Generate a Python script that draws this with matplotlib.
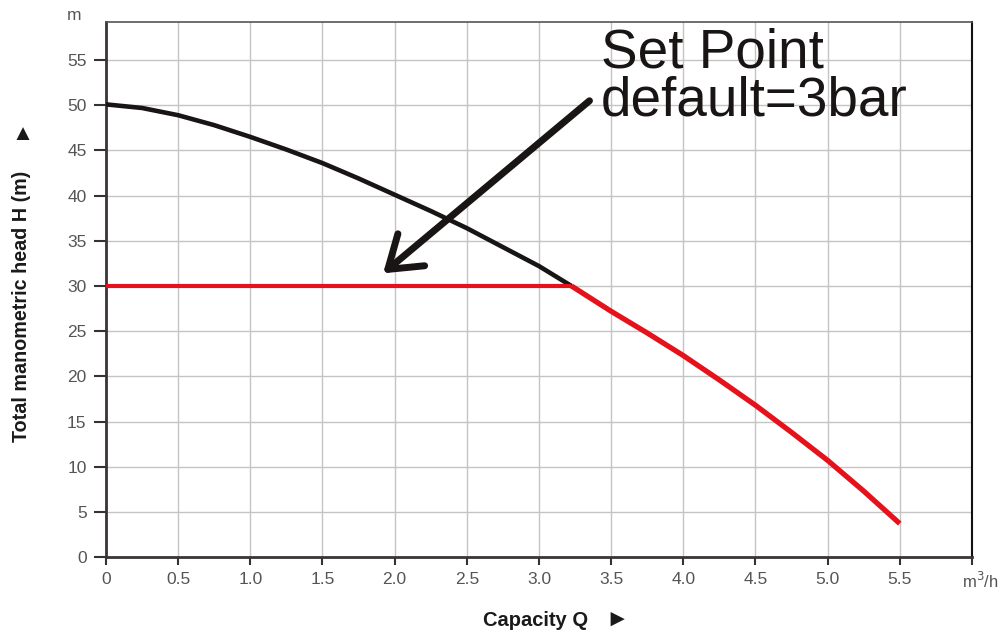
import matplotlib
matplotlib.use("Agg")
import matplotlib.pyplot as plt

plt.rcParams['font.family'] = ['Liberation Sans', 'DejaVu Sans']

# Data
q_curve = [0.0, 0.25, 0.5, 0.75, 1.0, 1.25, 1.5, 1.75, 2.0, 2.25, 2.5, 2.75, 3.0, 3.225]
h_curve = [50.1, 49.7, 48.9, 47.8, 46.5, 45.1, 43.6, 41.9, 40.1, 38.3, 36.4, 34.3, 32.2, 30.0]
q_red_flat = [0.0, 3.225]
h_red_flat = [30.0, 30.0]
q_red_drop = [3.225, 3.5, 3.75, 4.0, 4.25, 4.5, 4.75, 5.0, 5.25, 5.5]
h_red_drop = [30.0, 27.2, 24.8, 22.3, 19.6, 16.8, 13.8, 10.7, 7.3, 3.7]

x_ticks = [0, 0.5, 1.0, 1.5, 2.0, 2.5, 3.0, 3.5, 4.0, 4.5, 5.0, 5.5, 6.0]
x_labels = ['0', '0.5', '1.0', '1.5', '2.0', '2.5', '3.0', '3.5', '4.0', '4.5', '5.0', '5.5', '']
y_ticks = [0, 5, 10, 15, 20, 25, 30, 35, 40, 45, 50, 55]
y_labels = [str(v) for v in y_ticks]

arrow_start = (3.35, 50.5)
arrow_end = (1.92, 31.4)

fig = plt.figure(figsize=(10.02, 6.33), dpi=100)
ax = fig.add_axes([0.1058, 0.120, 0.8642, 0.845])
ax.set_xlim(0, 6.0)
ax.set_ylim(0, 59.2)

ax.set_xticks(x_ticks)
ax.set_xticklabels(x_labels)
ax.set_yticks(y_ticks)
ax.set_yticklabels(y_labels)
ax.tick_params(axis='both', direction='out', width=1.5, color='#333333',
               labelsize=12.5, labelcolor='#555555')
ax.tick_params(axis='y', length=9, pad=5)
ax.tick_params(axis='x', length=6, pad=5)

ax.grid(True, color='#c4c4c4', linewidth=1.0)
ax.set_axisbelow(True)

for s in ['left', 'bottom']:
    ax.spines[s].set_linewidth(2.0)
    ax.spines[s].set_color('#3a3434')
ax.spines['right'].set_linewidth(1.5)
ax.spines['right'].set_color('#111111')
ax.spines['top'].set_linewidth(1.2)
ax.spines['top'].set_color('#555555')

ax.plot(q_curve, h_curve, color='#1a1515', linewidth=3.3, solid_capstyle='butt',
        solid_joinstyle='round', zorder=3)
ax.plot(q_red_flat, h_red_flat, color='#e5121c', linewidth=3.0, solid_capstyle='butt', zorder=4)
ax.plot(q_red_drop, h_red_drop, color='#e5121c', linewidth=3.8, solid_capstyle='butt',
        solid_joinstyle='round', zorder=4)

ax.annotate('', xy=arrow_end, xytext=arrow_start,
            arrowprops=dict(arrowstyle='->,head_length=2.2,head_width=1.5',
                            color='#1a1515', lw=5, shrinkA=0, shrinkB=0),
            zorder=5)

ax.text(3.43, 54.2, 'Set Point', fontsize=39.5, color='#1a1515', ha='left', va='baseline')
ax.text(3.43, 48.9, 'default=3bar', fontsize=39.5, color='#1a1515', ha='left', va='baseline')

fig.text(74 / 1002, 1 - 16 / 633, 'm', fontsize=12.5, color='#555555', ha='center', va='center')
fig.text(980 / 1002, 1 - 581 / 633, 'm$^3$/h', fontsize=12, color='#555555', ha='center', va='center')

fig.text(22 / 1002, 1 - 442 / 633, 'Total manometric head H (m)', rotation=90,
         fontsize=14.2, fontweight='bold', color='#1a1a1a', ha='center', va='bottom')
fig.text(22 / 1002, 1 - 134 / 633, '\u25B2', fontsize=16, color='#1a1a1a',
         ha='center', va='center')
fig.text(483 / 1002, 1 - 620 / 633, 'Capacity Q', fontsize=14.5, fontweight='bold',
         color='#1a1a1a', ha='left', va='center')
fig.text(617 / 1002, 1 - 620 / 633, '\u25BA', fontsize=17, color='#1a1a1a',
         ha='center', va='center')

fig.savefig('out.png', dpi=100, facecolor='white')
